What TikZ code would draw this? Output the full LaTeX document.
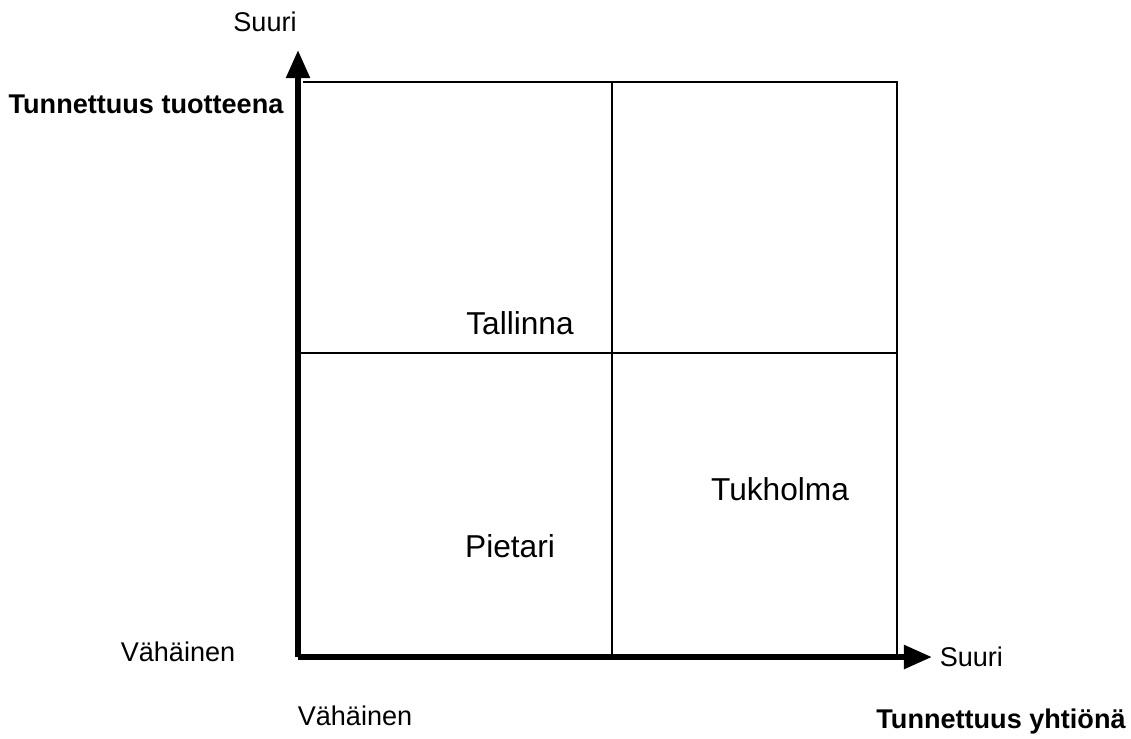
\documentclass[tikz,border=0pt]{standalone}
\usepackage{fontspec}
\setmainfont{Liberation Sans}
\usetikzlibrary{arrows.meta,positioning}

\begin{document}
\begin{tikzpicture}[
  x=0.01cm, y=-0.01cm,
  lbl/.style={font=\fontsize{7.7}{9}\selectfont, inner sep=0pt},
  axlbl/.style={lbl, font=\fontsize{7.7}{9}\selectfont\bfseries},
  city/.style={font=\fontsize{9}{11}\selectfont, inner sep=0pt},
  axis/.style={line width=1.7pt, -{Triangle[length=8pt, width=6.5pt]}},
  grid/.style={line width=0.6pt},
]
  \useasboundingbox (0,0) rectangle (1131,738);

  % axes
  \coordinate (origin) at (298,657);
  \coordinate (ytip) at (298,50);
  \coordinate (xtip) at (932,657);

  % quadrant frame
  \coordinate (tl) at (303,82);
  \coordinate (tm) at (612,82);
  \coordinate (tr) at (897,82);
  \coordinate (ml) at (298,353);
  \coordinate (mr) at (897,353);
  \coordinate (bm) at (612,657);
  \coordinate (br) at (897,657);

  \draw[grid] (tl) -- (tr) -- (br);
  \draw[grid] (tm) -- (bm);
  \draw[grid] (ml) -- (mr);

  \draw[axis] (origin) -- (ytip);
  \draw[axis] (origin) -- (xtip);

  % axis labels
  \node[lbl] (ysuuri) at (265,22) {Suuri};
  \node[axlbl] (ytitle) at (146,104) {Tunnettuus tuotteena};
  \node[lbl] (yvah) at (178,652) {Vähäinen};
  \node[lbl] (xvah) at (355,716) {Vähäinen};
  \node[lbl, right=2pt of xtip] (xsuuri) {Suuri};
  \node[axlbl] (xtitle) at (1001,721) {Tunnettuus yhtiönä};

  % cities
  \node[city] (tallinna) at (520,323) {Tallinna};
  \node[city] (tukholma) at (780,489) {Tukholma};
  \node[city] (pietari) at (510,546) {Pietari};
\end{tikzpicture}
\end{document}
